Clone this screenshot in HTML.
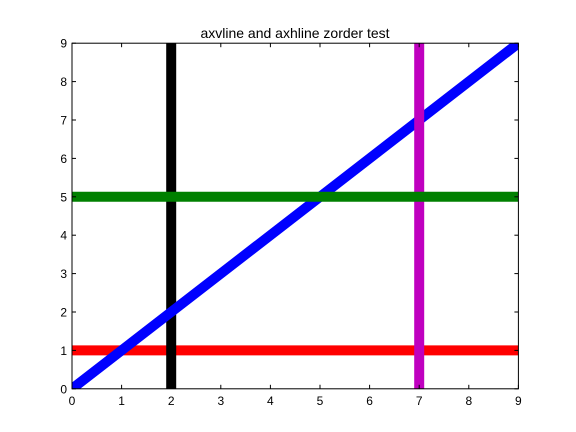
<!DOCTYPE html>
<html><head><meta charset="utf-8"><style>
body{margin:0;background:#fff}
svg{display:block;font-family:"Liberation Sans","DejaVu Sans",sans-serif}
</style></head><body>
<svg id="chart" width="576" height="432" viewBox="0 0 576 432">
<rect width="576" height="432" fill="#fff"/>
<text x="295" y="38" text-anchor="middle" font-size="14">axvline and axhline zorder test</text>
<defs><clipPath id="clip"><rect x="72" y="43.2" width="446.4" height="345.6"/></clipPath></defs>
<g id="marks" clip-path="url(#clip)"></g>
<g id="ticks"></g>
<rect x="72" y="43.2" width="446.4" height="345.6" fill="none" stroke="#000" stroke-width="1"/>
</svg>
<script>
const xTicks=[0,1,2,3,4,5,6,7,8,9];
const yTicks=[0,1,2,3,4,5,6,7,8,9];
const diagX=[0,9];
const diagY=[0,9];
const vLines=[{name:'vline-x2',x:2,color:'#000'},{name:'vline-x7',x:7,color:'#bf00bf'}];
const hLines=[{name:'hline-y1',y:1,color:'#ff0000'},{name:'hline-y5',y:5,color:'#008000'}];
const X0=72,X1=518.4,Y0=388.8,Y1=43.2;
const sx=v=>X0+(v-0)/(9-0)*(X1-X0);
const sy=v=>Y0-(v-0)/(9-0)*(Y0-Y1);
const NS='http://www.w3.org/2000/svg';
const marks=document.getElementById('marks');
const ticks=document.getElementById('ticks');
function line(parent,x1,y1,x2,y2,color,w){
  const l=document.createElementNS(NS,'line');
  l.setAttribute('x1',x1);l.setAttribute('y1',y1);l.setAttribute('x2',x2);l.setAttribute('y2',y2);
  l.setAttribute('stroke',color);l.setAttribute('stroke-width',w);
  parent.appendChild(l);return l;
}
function hline(h){const l=line(marks,X0,sy(h.y),X1,sy(h.y),h.color,10);

}
function vline(v){const l=line(marks,sx(v.x),Y1,sx(v.x),Y0,v.color,10);

}
hline(hLines[0]);
vline(vLines[0]);
const d=line(marks,sx(diagX[0]),sy(diagY[0]),sx(diagX[1]),sy(diagY[1]),'#0000ff',10);
d.setAttribute('stroke-linecap','square');


vline(vLines[1]);
hline(hLines[1]);
xTicks.forEach(t=>{
  const x=sx(t);
  const a=line(ticks,x,Y0,x,Y0-4,'#000',1);
  
  
  const b=line(ticks,x,Y1,x,Y1+4,'#000',1);
  
  
  const tx=document.createElementNS(NS,'text');
  tx.setAttribute('x',x);tx.setAttribute('y',Y0+16);tx.setAttribute('text-anchor','middle');tx.setAttribute('font-size','12');
  tx.textContent=t;
  
  
  ticks.appendChild(tx);
});
yTicks.forEach(t=>{
  const y=sy(t);
  const a=line(ticks,X0,y,X0+4,y,'#000',1);
  
  
  const b=line(ticks,X1,y,X1-4,y,'#000',1);
  
  
  const tx=document.createElementNS(NS,'text');
  tx.setAttribute('x',X0-5);tx.setAttribute('y',y+4.5);tx.setAttribute('text-anchor','end');tx.setAttribute('font-size','12');
  tx.textContent=t;
  
  
  ticks.appendChild(tx);
});
</script>
</body></html>
